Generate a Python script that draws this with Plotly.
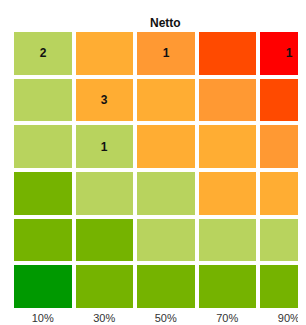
import plotly.graph_objects as go

x_labels = ["10%", "30%", "50%", "70%", "90%"]
# risk level per cell, rows from top to bottom
levels = [
    [2, 3, 4, 5, 6],
    [2, 3, 3, 4, 5],
    [2, 2, 3, 3, 4],
    [1, 2, 2, 3, 3],
    [1, 1, 2, 2, 2],
    [0, 1, 1, 1, 1],
]
counts = [
    ["2", "", "1", "", "1"],
    ["", "3", "", "", ""],
    ["", "1", "", "", ""],
    ["", "", "", "", ""],
    ["", "", "", "", ""],
    ["", "", "", "", ""],
]
level_colors = ["#009900", "#75b300", "#b8d35e", "#ffad33", "#ff9933", "#ff4a00", "#ff0000"]

n = len(level_colors)
colorscale = []
for i, c in enumerate(level_colors):
    colorscale.append([i / n, c])
    colorscale.append([(i + 1) / n, c])

fig = go.Figure(go.Heatmap(
    z=levels,
    x=list(range(len(x_labels))),
    y=list(range(len(levels))),
    text=counts,
    texttemplate="%{text}",
    textfont=dict(family="Liberation Sans, Arial, sans-serif", size=12, color="#111111", weight="bold"),
    colorscale=colorscale,
    zmin=-0.5, zmax=n - 0.5,
    showscale=False,
    xgap=4, ygap=4,
    hoverinfo="skip",
))

fig.update_layout(
    width=298, height=317,
    margin=dict(l=4, r=0, t=22, b=15),
    paper_bgcolor="white", plot_bgcolor="white",
    xaxis=dict(range=[-0.5, 4.28], tickvals=list(range(len(x_labels))), ticktext=x_labels,
               showgrid=False, zeroline=False, showline=False, ticks="",
               tickfont=dict(family="Liberation Sans, Arial, sans-serif", size=11, color="#333333"),
               automargin=False, fixedrange=True),
    yaxis=dict(range=[5.5, -0.5], showticklabels=False, showgrid=False, zeroline=False,
               showline=False, ticks="", automargin=False, fixedrange=True),
    annotations=[dict(text="<b>Netto</b>", x=2, xref="x", y=1.0, yref="paper", yanchor="bottom",
                      yshift=-2, showarrow=False,
                      font=dict(family="Liberation Sans, Arial, sans-serif", size=12, color="#111111"))],
)

fig.write_html("out.html")
